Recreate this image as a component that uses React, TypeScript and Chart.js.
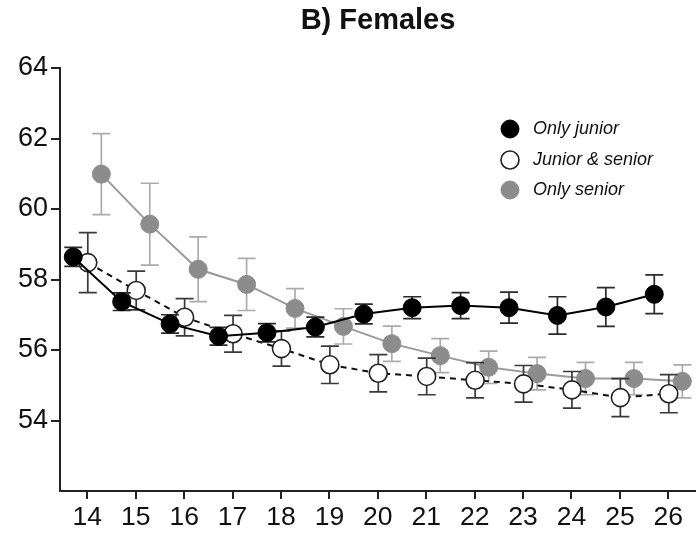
import React, { useEffect, useRef } from "react";
import { Chart, registerables } from "chart.js";

Chart.register(...registerables);

const FONT = "'Liberation Sans', Arial, Helvetica, sans-serif";

const TITLE = "B) Females";
const ages = [14, 15, 16, 17, 18, 19, 20, 21, 22, 23, 24, 25, 26];
const yTicks = [52, 54, 56, 58, 60, 62, 64];

const seriesNames = ["Only junior", "Junior & senior", "Only senior"];

const onlyJunior = [58.64, 57.37, 56.74, 56.39, 56.49, 56.65, 57.02, 57.2, 57.26, 57.2, 56.98, 57.22, 57.58];
const onlyJuniorErr = [0.27, 0.25, 0.26, 0.25, 0.26, 0.28, 0.28, 0.31, 0.37, 0.44, 0.53, 0.55, 0.55];

const juniorSenior = [58.48, 57.69, 56.93, 56.46, 56.04, 55.58, 55.34, 55.25, 55.14, 55.04, 54.87, 54.65, 54.76];
const juniorSeniorErr = [0.85, 0.55, 0.53, 0.52, 0.5, 0.53, 0.53, 0.52, 0.5, 0.52, 0.52, 0.54, 0.54];

const onlySenior = [60.99, 59.57, 58.29, 57.86, 57.18, 56.67, 56.18, 55.84, 55.51, 55.33, 55.19, 55.19, 55.11];
const onlySeniorErr = [1.15, 1.16, 0.92, 0.74, 0.56, 0.5, 0.5, 0.48, 0.46, 0.46, 0.46, 0.46, 0.47];

// horizontal jitter (in age units) so the groups do not overlap
const offsets = [-0.29, 0.01, 0.29];

const styles = [
  { fill: "#000000", stroke: "#000000", line: "#000000", err: "#2a2a2a", dash: [] as number[], pw: 1 },
  { fill: "#ffffff", stroke: "#222222", line: "#111111", err: "#3a3a3a", dash: [6, 5], pw: 1.6 },
  { fill: "#8c8c8c", stroke: "#8c8c8c", line: "#9a9a9a", err: "#ababab", dash: [] as number[], pw: 1 },
];

export default function App() {
  const ref = useRef<HTMLCanvasElement>(null);

  useEffect(() => {
    const canvas = ref.current;
    if (!canvas) return;
    const values = [onlyJunior, juniorSenior, onlySenior];
    const errs = [onlyJuniorErr, juniorSeniorErr, onlySeniorErr];

    const datasets = values.map((vals, k) => ({
      label: seriesNames[k],
      data: vals.map((v, i) => ({ x: ages[i] + offsets[k], y: v })),
      showLine: true,
      borderColor: styles[k].line,
      borderWidth: 2,
      borderDash: styles[k].dash,
      pointRadius: 9,
      pointHoverRadius: 9,
      pointBackgroundColor: styles[k].fill,
      pointBorderColor: styles[k].stroke,
      pointBorderWidth: styles[k].pw,
      tension: 0,
      clip: false as any,
    }));

    const errPlugin = {
      id: "errbars",
      beforeDatasetDraw(chart: any, args: any) {
        const k = args.index;
        const ys = chart.scales.y;
        const ctx = chart.ctx;
        ctx.save();
        ctx.strokeStyle = styles[k].err;
        ctx.lineWidth = 1.7;
        ctx.setLineDash([]);
        args.meta.data.forEach((pt: any, i: number) => {
          const v = values[k][i];
          const e = errs[k][i];
          const x = pt.x;
          const top = ys.getPixelForValue(v + e);
          const bot = ys.getPixelForValue(v - e);
          ctx.beginPath();
          ctx.moveTo(x, top);
          ctx.lineTo(x, bot);
          ctx.moveTo(x - 9, top);
          ctx.lineTo(x + 9, top);
          ctx.moveTo(x - 9, bot);
          ctx.lineTo(x + 9, bot);
          ctx.stroke();
        });
        ctx.restore();
      },
    };

    const decorPlugin = {
      id: "decor",
      afterDraw(chart: any) {
        const ctx = chart.ctx;
        const ca = chart.chartArea;
        ctx.save();
        // title
        ctx.fillStyle = "#111";
        ctx.font = `bold 29px ${FONT}`;
        ctx.textAlign = "center";
        ctx.textBaseline = "alphabetic";
        ctx.fillText(TITLE, (ca.left + ca.right) / 2, 29);
        // legend
        const ly = [129, 160, 190];
        ctx.font = `italic 18px ${FONT}`;
        ctx.textAlign = "left";
        ctx.textBaseline = "middle";
        seriesNames.forEach((name, k) => {
          ctx.beginPath();
          ctx.arc(510, ly[k], 9, 0, Math.PI * 2);
          ctx.fillStyle = styles[k].fill;
          ctx.fill();
          ctx.lineWidth = styles[k].pw;
          ctx.strokeStyle = styles[k].stroke;
          ctx.stroke();
          ctx.fillStyle = "#111";
          ctx.fillText(name, 533, ly[k]);
        });
        ctx.restore();
      },
    };

    const chart = new Chart(canvas, {
      type: "scatter",
      data: { datasets },
      options: {
        responsive: false,
        animation: false,
        devicePixelRatio: 1,
        layout: { autoPadding: false, padding: { top: 68, left: 0, right: 0, bottom: 0 } },
        plugins: {
          legend: { display: false },
          tooltip: { enabled: false },
          title: { display: false },
        },
        scales: {
          x: {
            type: "linear",
            min: 13.436,
            max: 26.572,
            afterBuildTicks: (s: any) => {
              s.ticks = ages.map((v) => ({ value: v }));
            },
            afterFit: (s: any) => {
              s.height = 42;
              s.paddingLeft = 0;
              s.paddingRight = 0;
            },
            border: { display: true, color: "#222", width: 2 },
            grid: { display: true, drawOnChartArea: false, drawTicks: true, tickLength: 8, color: "#222", lineWidth: 2 },
            ticks: {
              font: { size: 26.5, family: FONT },
              color: "#111",
              padding: 3,
              maxRotation: 0,
              autoSkip: false,
              callback: (v: any) => String(v),
            },
          },
          y: {
            type: "linear",
            min: 52,
            max: 64,
            afterBuildTicks: (s: any) => {
              s.ticks = yTicks.map((v) => ({ value: v }));
            },
            afterFit: (s: any) => {
              s.width = 60;
              s.paddingTop = 0;
              s.paddingBottom = 0;
            },
            border: { display: true, color: "#222", width: 2 },
            grid: {
              display: true,
              drawOnChartArea: false,
              drawTicks: true,
              tickLength: 9,
              lineWidth: 2,
              color: (c: any) => (c.tick && c.tick.value === 52 ? "rgba(0,0,0,0)" : "#222"),
            },
            ticks: {
              font: { size: 27, family: FONT },
              color: "#111",
              padding: 3,
              autoSkip: false,
              callback: (v: any) => (v === 52 ? "" : String(v)),
            },
          },
        },
      },
      plugins: [errPlugin, decorPlugin],
    } as any);

    return () => chart.destroy();
  }, []);

  return (
    <div style={{ position: "absolute", left: 0, top: 0, width: 696, height: 533, background: "#fff" }}>
      <canvas ref={ref} width={696} height={533} style={{ width: 696, height: 533, display: "block" }} />
    </div>
  );
}
